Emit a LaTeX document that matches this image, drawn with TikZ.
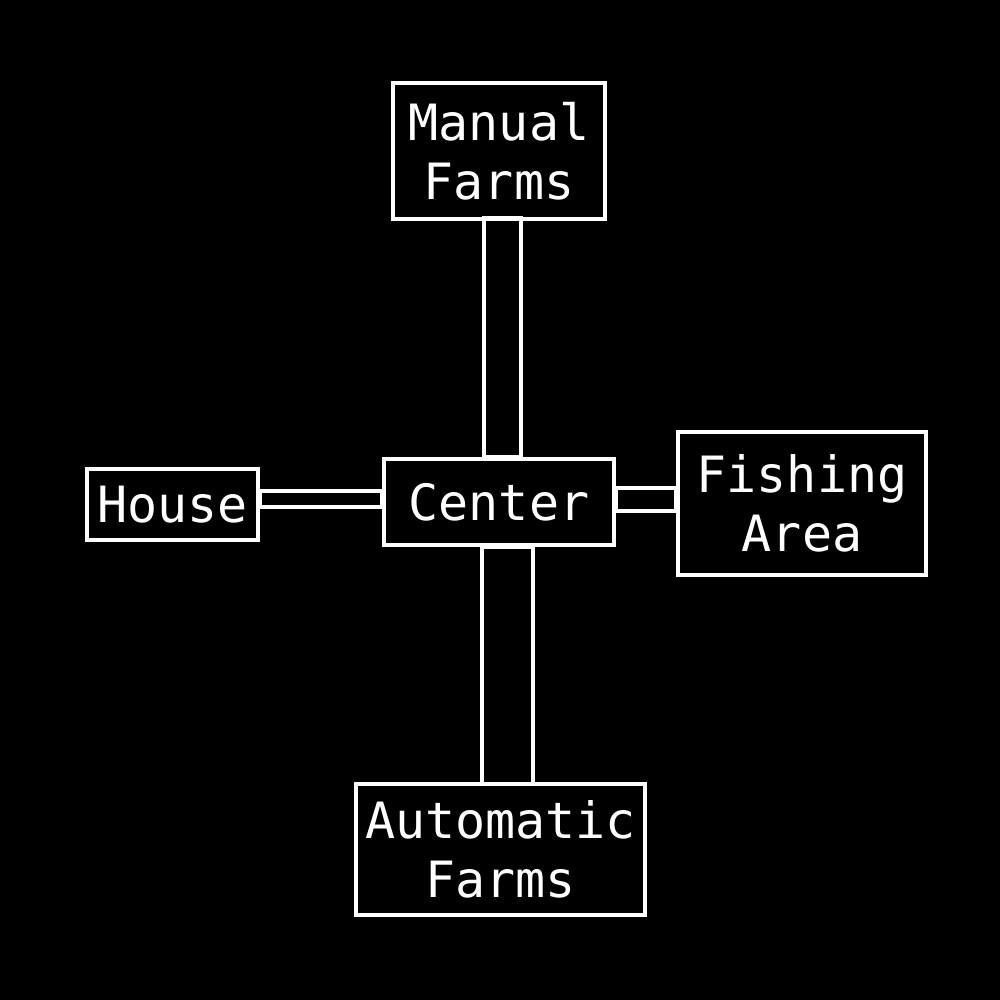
\documentclass[tikz,border=0pt]{standalone}
\usepackage{fontspec}
\newfontfamily\boxfont{DejaVu Sans Mono}
\begin{document}
\begin{tikzpicture}[x=1pt,y=-1pt,
  room/.style={draw=white, line width=4pt, inner sep=0pt, text=white,
    align=center, font=\boxfont\fontsize{50}{59}\selectfont},
  corridor/.style={draw=white, line width=4pt}]
\fill[black] (0,0) rectangle (1000,1000);
\useasboundingbox (0,0) rectangle (1000,1000);
\node[room, minimum width=212pt, minimum height=136pt] (mf) at (499,151) {Manual\\Farms};
\node[room, minimum width=230pt, minimum height=86pt] (ctr) at (499,502) {Center};
\node[room, minimum width=171pt, minimum height=71pt] (house) at (172.5,504.5) {House};
\node[room, minimum width=248pt, minimum height=143pt] (fish) at (802,503.5) {Fishing\\Area};
\node[room, minimum width=289pt, minimum height=131pt] (af) at (500.5,849.5) {Automatic\\Farms};
% corridors
\draw[corridor] ([xshift=-15pt,yshift=3pt]mf.south) rectangle ([xshift=22pt]ctr.north);
\draw[corridor] ([xshift=-17pt]ctr.south) rectangle ([xshift=32.5pt,yshift=-2pt]af.north);
\draw[corridor] ([yshift=13.5pt]house.east) rectangle ([yshift=-5pt]ctr.west);
\draw[corridor] ([yshift=14pt]ctr.east) rectangle ([yshift=-7.5pt]fish.west);
\end{tikzpicture}
\end{document}
